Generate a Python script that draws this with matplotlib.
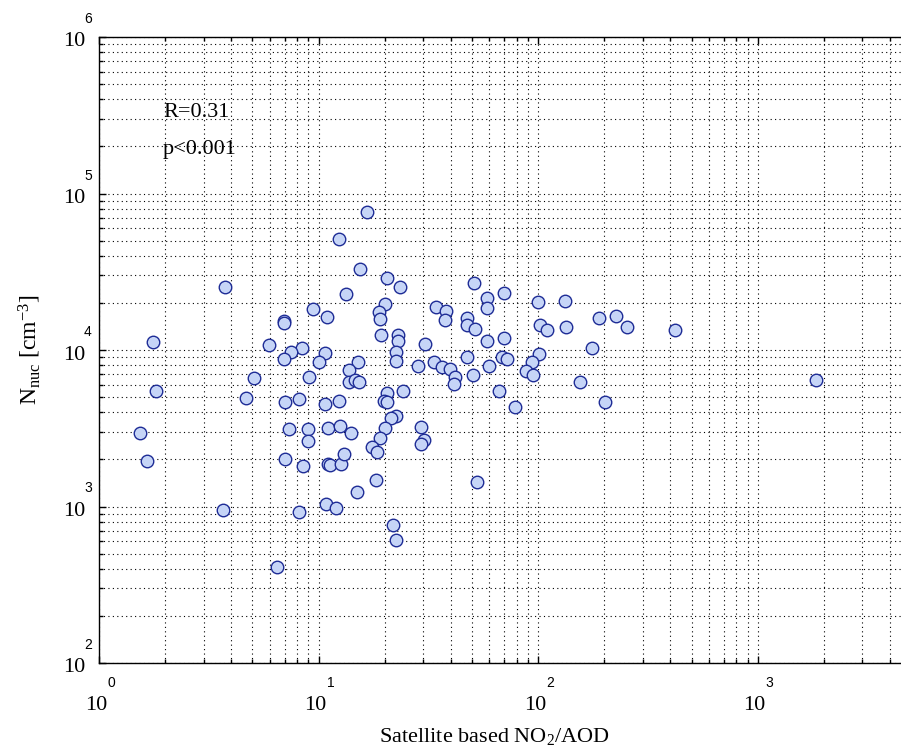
import numpy as np
import matplotlib
matplotlib.use('Agg')
import matplotlib.pyplot as plt
from matplotlib.transforms import offset_copy
from matplotlib.ticker import LogLocator, NullFormatter

# satellite based NO2/AOD ratio vs nucleation mode number concentration
no2_aod = [16.7, 12.4, 15.5, 20.5, 23.6, 13.4, 51.3, 58.6, 58.6, 69.8,
           100.3, 132.7, 189, 9.41, 10.9, 20.1, 18.9, 19.1, 34.4, 38.0,
           37.8, 47.3, 47.6, 51.5, 102.4, 109.9, 133.7, 19.3, 22.9, 22.9,
           30.7, 58.7, 69.8, 176.7, 8.41, 10.7, 10.0, 22.5, 22.6, 15.1,
           13.7, 28.3, 33.6, 36.4, 39.9, 41.7, 41.3, 47.3, 50.7, 60.0,
           68.5, 72.2, 100.7, 94.2, 87.9, 94.6, 155.4, 9.02, 13.8, 14.6,
           15.3, 66.6, 78.6, 24.3, 20.4, 19.9, 20.6, 8.15, 10.7, 12.4,
           22.5, 21.3, 20.1, 19.1, 17.6, 18.5, 29.2, 30.1, 29.2, 8.93,
           8.96, 11.1, 12.5, 14.0, 8.50, 11.0, 11.3, 12.6, 13.1, 18.2,
           14.9, 52.6, 10.8, 12.0, 202, 3.74, 6.98, 6.98, 1.77, 5.93,
           7.52, 6.94, 5.07, 1.81, 4.66, 7.02, 1.54, 7.36, 1.65, 7.04,
           3.66, 8.12, 21.8, 22.5, 6.45, 227, 254, 422, 1841]
n_nuc = [76500, 50900, 32800, 28800, 25400, 22700, 26700, 21600, 18600, 23000,
         20300, 20700, 16100, 18300, 16300, 19700, 17400, 15700, 18900, 17700,
         15500, 16100, 14500, 13700, 14400, 13500, 14100, 12400, 12400, 11500,
         10900, 11500, 11900, 10300, 10300, 9570, 8380, 9710, 8510, 8380,
         7480, 7900, 8420, 7790, 7590, 6750, 6070, 9020, 6950, 7900,
         8980, 8720, 9420, 8380, 7380, 6950, 6250, 6720, 6250, 6430,
         6250, 5500, 4300, 5470, 5290, 4700, 4630, 4880, 4540, 4740,
         3790, 3660, 3190, 2750, 2400, 2220, 3210, 2660, 2510, 3110,
         2620, 3160, 3250, 2960, 1820, 1880, 1830, 1870, 2170, 1480,
         1230, 1430, 1030, 973, 4630, 25300, 15400, 14900, 11200, 10800,
         9660, 8720, 6590, 5450, 4960, 4670, 2940, 3140, 1950, 2010,
         946, 918, 759, 611, 408, 16600, 14000, 13500, 6430]

x_decades = [0, 1, 2, 3]
y_decades = [2, 3, 4, 5, 6]

plt.rcParams['font.family'] = ['Liberation Serif', 'DejaVu Serif']
plt.rcParams['mathtext.fontset'] = 'custom'
plt.rcParams['mathtext.rm'] = 'Liberation Serif'
plt.rcParams['mathtext.it'] = 'Liberation Serif:italic'

fig = plt.figure(figsize=(9.01, 7.5), dpi=100)
ax = fig.add_axes([99 / 901, 87 / 750, 802 / 901, 626 / 750])
ax.set_axisbelow(True)
ax.plot(no2_aod, n_nuc, 'o', ls='none', ms=9, mfc='#c6d5f7', mec='#1e2c96', mew=1.0)

ax.set_xscale('log')
ax.set_yscale('log')
ax.set_xlim(1, 4500)
ax.set_ylim(1e2, 1e6)
for a in (ax.xaxis, ax.yaxis):
    a.set_major_locator(LogLocator(base=10, numticks=12))
    a.set_minor_locator(LogLocator(base=10, subs=np.arange(2, 10), numticks=40))
    a.set_minor_formatter(NullFormatter())
ax.grid(True, which='both', ls=(0, (1, 3)), color='k', lw=0.8)
ax.tick_params(which='both', direction='in', top=True, right=False,
               labelbottom=False, labelleft=False, width=1)
ax.tick_params(which='major', length=5)
ax.tick_params(which='minor', length=3)
ax.spines['right'].set_visible(False)
for s in ['left', 'bottom', 'top']:
    ax.spines[s].set_linewidth(1.0)

# matlab style "10" + exponent tick labels
for d in x_decades:
    tb = offset_copy(ax.get_xaxis_transform(), fig=fig, x=-3, y=-42, units='dots')
    ax.text(10 ** d, 0, '10', transform=tb, ha='center', va='center', fontsize=16)
    te = offset_copy(ax.get_xaxis_transform(), fig=fig, x=12, y=-20, units='dots')
    ax.text(10 ** d, 0, str(d), transform=te, ha='center', va='center', fontsize=10,
            family='Liberation Sans')
for d in y_decades:
    tb = offset_copy(ax.get_yaxis_transform(), fig=fig, x=-25, y=-5, units='dots')
    ax.text(0, 10 ** d, '10', transform=tb, ha='center', va='center', fontsize=16)
    te = offset_copy(ax.get_yaxis_transform(), fig=fig, x=-11, y=18, units='dots')
    ax.text(0, 10 ** d, str(d), transform=te, ha='center', va='center', fontsize=10,
            family='Liberation Sans')

ax.text(0.08, 0.879, 'R=0.31', transform=ax.transAxes, ha='left', va='center', fontsize=16)
ax.text(0.08, 0.82, 'p<0.001', transform=ax.transAxes, ha='left', va='center', fontsize=16)

ax.set_xlabel(r'Satellite based NO$_2$/AOD', fontsize=16, va='center')
ax.xaxis.set_label_coords(0.4925, -0.118)
ax.set_ylabel(r'N$_{\mathrm{nuc}}$ [cm$^{-3}$]', fontsize=17, va='center')
ax.yaxis.set_label_coords(-0.086, 0.5)

fig.savefig('out.png', dpi=100)
